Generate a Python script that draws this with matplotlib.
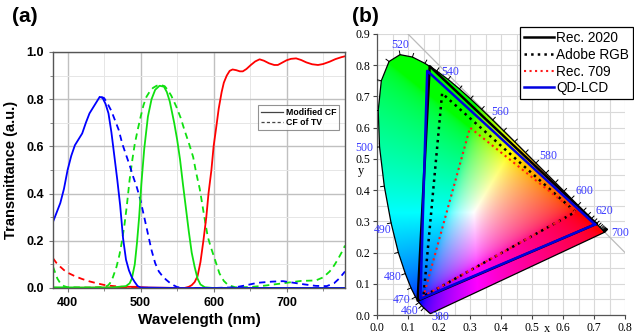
import numpy as np
import matplotlib
matplotlib.use("Agg")
import matplotlib.pyplot as plt
from matplotlib.path import Path
from matplotlib.patches import PathPatch
from matplotlib.lines import Line2D
from matplotlib.ticker import MultipleLocator

# ---------------- Panel (a) data ----------------
bs_wl = [380, 385, 390, 395, 400, 405, 410, 415, 420, 425, 430, 435, 440, 444, 448, 452, 456, 460, 464, 468,
         472, 476, 480, 484, 488, 492, 496, 500, 550, 620, 700, 780]
bs_t = [0.28, 0.32, 0.36, 0.42, 0.50, 0.56, 0.605, 0.63, 0.655, 0.70, 0.74, 0.765, 0.79, 0.81, 0.805, 0.78,
        0.74, 0.66, 0.56, 0.46, 0.35, 0.21, 0.12, 0.075, 0.045, 0.025, 0.008, 0.002, 0.0, 0.0, 0.0, 0.0]

bd_wl = [446, 450, 455, 460, 465, 470, 475, 480, 485, 490, 495, 500, 505, 510, 515, 520, 525, 530, 535, 540,
         545, 550, 560, 600, 630, 645, 660, 680, 695, 710, 725, 740, 755, 765, 772, 780]
bd_t = [0.81, 0.805, 0.78, 0.75, 0.71, 0.67, 0.61, 0.565, 0.52, 0.47, 0.425, 0.37, 0.30, 0.23, 0.16, 0.105,
        0.07, 0.05, 0.035, 0.022, 0.012, 0.004, 0.0, 0.0, 0.003, 0.012, 0.022, 0.027, 0.029, 0.022, 0.015,
        0.009, 0.008, 0.02, 0.04, 0.07]

gs_wl = [380, 420, 460, 480, 485, 488, 492, 495, 498, 501, 505, 510, 515, 520, 526, 532, 536, 540, 546, 550,
         554, 558, 562, 566, 570, 574, 578, 582, 588, 600, 700, 780]
gs_t = [0.003, 0.002, 0.002, 0.008, 0.02, 0.04, 0.10, 0.19, 0.30, 0.44, 0.59, 0.726, 0.80, 0.84, 0.857, 0.853,
        0.83, 0.79, 0.70, 0.63, 0.545, 0.44, 0.34, 0.24, 0.15, 0.09, 0.04, 0.015, 0.003, 0.0, 0.0, 0.0]

gd_wl = [380, 383, 386, 390, 395, 400, 430, 450, 455, 458, 462, 467, 471, 474, 478, 481, 485, 489, 492, 496,
         500, 504, 508, 512, 517, 522, 528, 533, 537, 542, 549, 555, 560, 566, 572, 576, 581, 585, 589, 592,
         596, 599, 604, 608, 614, 620, 630, 650, 670, 690, 700, 720, 740, 750, 759, 765, 770, 777, 780]
gd_t = [0.09, 0.065, 0.04, 0.02, 0.008, 0.003, 0.002, 0.004, 0.01, 0.02, 0.045, 0.09, 0.14, 0.19, 0.27, 0.345,
        0.46, 0.55, 0.61, 0.67, 0.725, 0.775, 0.81, 0.83, 0.848, 0.857, 0.86, 0.855, 0.84, 0.815, 0.768, 0.72,
        0.67, 0.615, 0.555, 0.49, 0.42, 0.345, 0.27, 0.217, 0.175, 0.147, 0.10, 0.062, 0.03, 0.012, 0.003,
        0.004, 0.01, 0.018, 0.022, 0.03, 0.032, 0.045, 0.07, 0.095, 0.12, 0.16, 0.18]

rs_wl = [380, 470, 480, 495, 505, 560, 566, 570, 574, 578, 582, 586, 590, 593, 597, 600, 604, 607, 611, 614,
         618, 622, 626, 631, 636, 640, 645, 651, 657, 663, 669, 676, 683, 688, 694, 700, 706, 713, 720, 727,
         735, 743, 750, 759, 767, 775, 780]
rs_t = [0.0, 0.002, 0.005, 0.005, 0.002, 0.0, 0.005, 0.012, 0.025, 0.05, 0.11, 0.2, 0.30, 0.40, 0.50, 0.60,
        0.69, 0.76, 0.83, 0.87, 0.90, 0.92, 0.926, 0.923, 0.918, 0.918, 0.928, 0.945, 0.96, 0.969, 0.963, 0.952,
        0.945, 0.945, 0.955, 0.965, 0.971, 0.973, 0.966, 0.956, 0.948, 0.945, 0.949, 0.959, 0.97, 0.978, 0.982]

rd_wl = [380, 385, 390, 395, 400, 410, 420, 430, 440, 450, 460, 470, 480, 490, 500, 510]
rd_t = [0.126, 0.105, 0.09, 0.076, 0.065, 0.05, 0.038, 0.028, 0.02, 0.013, 0.009, 0.006, 0.004, 0.003, 0.002, 0.001]

a_xticks = [400, 500, 600, 700]
a_yticks = [0.0, 0.2, 0.4, 0.6, 0.8, 1.0]
a_legend = ["Modified CF", "CF of TV"]

# ---------------- Panel (b) data ----------------
locus_nm = list(range(380, 705, 5))
locus_x = [0.1741, 0.1740, 0.1738, 0.1736, 0.1733, 0.1730, 0.1726, 0.1721, 0.1714, 0.1703, 0.1689, 0.1669,
           0.1644, 0.1611, 0.1566, 0.1510, 0.1440, 0.1355, 0.1241, 0.1096, 0.0913, 0.0687, 0.0454, 0.0235,
           0.0082, 0.0039, 0.0139, 0.0389, 0.0743, 0.1142, 0.1547, 0.1929, 0.2296, 0.2658, 0.3016, 0.3373,
           0.3731, 0.4087, 0.4441, 0.4788, 0.5125, 0.5448, 0.5752, 0.6029, 0.6270, 0.6482, 0.6658, 0.6801,
           0.6915, 0.7006, 0.7079, 0.7140, 0.7190, 0.7230, 0.7260, 0.7283, 0.7300, 0.7311, 0.7320, 0.7327,
           0.7334, 0.7340, 0.7344, 0.7346, 0.7347]
locus_y = [0.0050, 0.0050, 0.0049, 0.0049, 0.0048, 0.0048, 0.0048, 0.0048, 0.0051, 0.0058, 0.0069, 0.0086,
           0.0109, 0.0138, 0.0177, 0.0227, 0.0297, 0.0399, 0.0578, 0.0868, 0.1327, 0.2007, 0.2950, 0.4127,
           0.5384, 0.6548, 0.7502, 0.8120, 0.8338, 0.8262, 0.8059, 0.7816, 0.7543, 0.7243, 0.6923, 0.6589,
           0.6245, 0.5896, 0.5547, 0.5202, 0.4866, 0.4544, 0.4242, 0.3965, 0.3725, 0.3514, 0.3340, 0.3197,
           0.3083, 0.2993, 0.2920, 0.2859, 0.2809, 0.2770, 0.2740, 0.2717, 0.2700, 0.2689, 0.2680, 0.2673,
           0.2666, 0.2660, 0.2656, 0.2654, 0.2653]

wl_labels = ["380", "460", "470", "480", "490", "500", "520", "540", "560", "580", "600", "620", "700"]
wl_label_x = [0.206, 0.107, 0.080, 0.052, 0.017, -0.040, 0.075, 0.235, 0.397, 0.552, 0.670, 0.735, 0.785]
wl_label_y = [-0.006, 0.013, 0.048, 0.122, 0.272, 0.535, 0.865, 0.778, 0.650, 0.510, 0.397, 0.333, 0.263]

gamut_names = ["Rec. 2020", "Adobe RGB", "Rec. 709", "QD-LCD"]
gamut_x = [[0.708, 0.170, 0.131], [0.640, 0.210, 0.150], [0.640, 0.300, 0.150], [0.703, 0.162, 0.140]]
gamut_y = [[0.292, 0.797, 0.046], [0.330, 0.710, 0.060], [0.330, 0.600, 0.060], [0.290, 0.782, 0.052]]
gamut_colors = ["black", "black", "#ff1a1a", "#0000e0"]
gamut_styles = ["-", ":", ":", "-"]
gamut_widths = [1.8, 1.8, 1.5, 1.8]

b_xticks = [0.0, 0.1, 0.2, 0.3, 0.4, 0.5, 0.6, 0.7, 0.8]
b_yticks = [0.0, 0.1, 0.2, 0.3, 0.4, 0.5, 0.6, 0.7, 0.8, 0.9]

# ---------------- Figure ----------------
W, H = 634, 335
fig = plt.figure(figsize=(W / 100, H / 100), dpi=100)

def frac(px_l, px_t, px_r, px_b):
    return [px_l / W, 1 - px_b / H, (px_r - px_l) / W, (px_b - px_t) / H]

# ---- Panel (a) ----
axa = fig.add_axes(frac(53, 52, 345, 288))
sans = "Liberation Sans"
blue, green, red = "#0000ff", "#10e010", "#ff0000"
lw = 1.3
axa.plot(rd_wl, rd_t, color=red, lw=lw, ls=(0, (3.5, 2.5)))
axa.plot(gd_wl, gd_t, color=green, lw=lw, ls=(0, (3.5, 2.5)))
axa.plot(bd_wl, bd_t, color=blue, lw=lw, ls=(0, (3.5, 2.5)))
axa.plot(rs_wl, rs_t, color=red, lw=lw)
axa.plot(gs_wl, gs_t, color=green, lw=lw)
axa.plot(bs_wl, bs_t, color=blue, lw=lw)
axa.set_xlim(380, 780)
axa.set_ylim(0, 1.0)
axa.set_xticks(a_xticks)
axa.set_yticks(a_yticks)
axa.set_yticklabels([f"{v:.1f}" for v in a_yticks])
axa.xaxis.set_minor_locator(MultipleLocator(50))
axa.yaxis.set_minor_locator(MultipleLocator(0.1))
axa.grid(True, which="major", color="#c0c0c0", lw=1.0)
axa.grid(True, which="minor", color="#e6e6e6", lw=0.7)
axa.set_axisbelow(True)
for s in axa.spines.values():
    s.set_color("#555555")
    s.set_linewidth(1.0)
axa.tick_params(axis="both", which="both", color="#777777", direction="out")
axa.tick_params(axis="both", which="major", length=3, labelsize=9)
axa.tick_params(axis="both", which="minor", length=2)
for lab in axa.get_xticklabels() + axa.get_yticklabels():
    lab.set_fontfamily(sans)
    lab.set_fontweight("bold")
axa.set_xlabel("Wavelength (nm)", fontsize=11, fontweight="bold", family=sans, labelpad=3)
axa.set_ylabel("Transmittance (a.u.)", fontsize=10.5, fontweight="bold", family=sans, labelpad=6)
handles_a = [Line2D([], [], color="#444444", lw=0.9), Line2D([], [], color="#444444", lw=0.9, ls=(0, (2.5, 1.8)))]
lega = axa.legend(handles_a, a_legend, loc="upper left", bbox_to_anchor=((258 - 53) / 292, (288 - 105) / 236),
                  prop={"family": sans, "weight": "bold", "size": 6.3}, frameon=True, fancybox=False,
                  edgecolor="#777777", handlelength=2.6, handletextpad=0.3, borderpad=0.3,
                  labelspacing=0.2, borderaxespad=0)
lega.get_frame().set_linewidth(0.8)
fig.text(12 / W, 1 - 7 / H, "(a)", fontsize=15, fontweight="bold", family=sans, va="top")

# ---- Panel (b) ----
axb = fig.add_axes(frac(377, 34, 625, 315))
serif = "Liberation Serif"
axb.set_xlim(0, 0.8)
axb.set_ylim(0, 0.9)
axb.xaxis.set_minor_locator(MultipleLocator(0.05))
axb.yaxis.set_minor_locator(MultipleLocator(0.05))
axb.grid(True, which="both", color="#d9d9d9", lw=0.8)
axb.set_axisbelow(True)
axb.set_xticks(b_xticks)
axb.set_yticks(b_yticks)
axb.set_xticklabels([f"{v:.1f}" for v in b_xticks])
axb.set_yticklabels([f"{v:.1f}" for v in b_yticks])
axb.tick_params(axis="both", which="major", length=3, labelsize=8.5, color="#444444", pad=2)
axb.tick_params(axis="both", which="minor", length=0)
for lab in axb.get_xticklabels() + axb.get_yticklabels():
    lab.set_fontfamily(serif)
axb.spines["top"].set_visible(False)
axb.spines["right"].set_visible(False)
for s in ("left", "bottom"):
    axb.spines[s].set_color("#555555")
    axb.spines[s].set_linewidth(0.9)

# chromaticity colour fill
gx = np.linspace(0, 0.8, 400)
gy = np.linspace(0.001, 0.9, 450)
XX, YY = np.meshgrid(gx, gy)
Xc = XX / YY
Yc = np.ones_like(XX)
Zc = (1 - XX - YY) / YY
R = 3.2406 * Xc - 1.5372 * Yc - 0.4986 * Zc
G = -0.9689 * Xc + 1.8758 * Yc + 0.0415 * Zc
B = 0.0557 * Xc - 0.2040 * Yc + 1.0570 * Zc
rgb = np.stack([R, G, B], axis=-1)
rgb = np.clip(rgb, 0, None)
rgb = rgb / np.maximum(rgb.max(axis=-1, keepdims=True), 1e-9)
rgb = np.where(rgb <= 0.0031308, 12.92 * rgb, 1.055 * np.power(rgb, 1 / 2.4) - 0.055)
rgb = np.clip(rgb, 0, 1)
im = axb.imshow(rgb, extent=(0, 0.8, 0.001, 0.9), origin="lower", aspect="auto", zorder=1,
                interpolation="bilinear")
poly = np.column_stack([locus_x + [locus_x[0]], locus_y + [locus_y[0]]])
patch = PathPatch(Path(poly), facecolor="none", edgecolor="black", lw=0.9, zorder=2)
axb.add_patch(patch)
im.set_clip_path(patch)
axb.set_xlim(0, 0.8)
axb.set_ylim(0, 0.9)

# x + y = 1 line
axb.plot([0.1, 0.8], [0.9, 0.2], color="#bbbbbb", lw=0.9, zorder=1.5)

# tick marks along locus
lx = np.array(locus_x)
ly = np.array(locus_y)
for i in range(len(lx)):
    nm = locus_nm[i]
    if nm < 455 or nm > 700:
        continue
    i0, i1 = max(i - 1, 0), min(i + 1, len(lx) - 1)
    dx, dy = lx[i1] - lx[i0], ly[i1] - ly[i0]
    nx, ny = dy, -dx
    nrm = np.hypot(nx, ny)
    if nrm == 0:
        continue
    nx, ny = nx / nrm, ny / nrm
    if (lx[i] - 0.33) * nx + (ly[i] - 0.33) * ny < 0:
        nx, ny = -nx, -ny
    L = 0.012
    axb.plot([lx[i], lx[i] + L * nx], [ly[i], ly[i] + L * ny], color="black", lw=0.7, zorder=3)

for t, x, y in zip(wl_labels, wl_label_x, wl_label_y):
    axb.text(x, y, t, color="#3a3aff", fontsize=8.5, family=serif, ha="center", va="center",
             clip_on=False, zorder=4)

handles_b = []
for name, xs, ys, c, st, w in zip(gamut_names, gamut_x, gamut_y, gamut_colors, gamut_styles, gamut_widths):
    axb.plot(xs + [xs[0]], ys + [ys[0]], color=c, ls=st, lw=w, zorder=3)
    handles_b.append(Line2D([], [], color=c, ls=st, lw=w))

legb = fig.legend(handles_b, gamut_names, loc="upper left", bbox_to_anchor=(520 / W, 1 - 27 / H),
                  bbox_transform=fig.transFigure, prop={"family": sans, "size": 9.8},
                  frameon=True, fancybox=False, edgecolor="black", framealpha=1,
                  handlelength=2.2, handletextpad=0.15, borderpad=0.3, labelspacing=0.2,
                  borderaxespad=0)
legb.get_frame().set_linewidth(0.9)

axb.text(-0.052, 0.46, "y", fontsize=9, family=serif, ha="center", va="center", clip_on=False)
fig.text(547 / W, 1 - 329 / H, "x", fontsize=9, family=serif, ha="center", va="center")

fig.text(352 / W, 1 - 7 / H, "(b)", fontsize=15, fontweight="bold", family=sans, va="top")

fig.savefig("out.png", dpi=100)
